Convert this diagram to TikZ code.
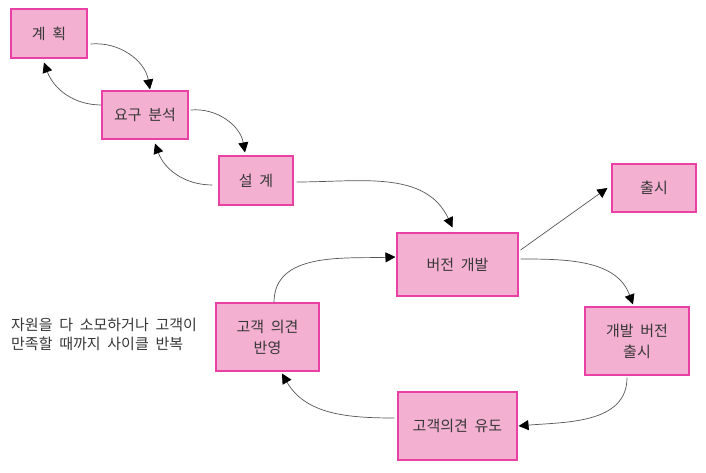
\documentclass[tikz,border=0pt]{standalone}
\usepackage{fontspec}
\setmainfont[WordSpace=2]{Noto Sans CJK KR}
\usetikzlibrary{arrows.meta}
\definecolor{boxfill}{RGB}{243,176,208}
\definecolor{boxline}{RGB}{232,64,164}
\definecolor{txtgray}{RGB}{55,55,55}
\definecolor{linkgray}{RGB}{85,85,85}
\begin{document}
\begin{tikzpicture}[x=1pt,y=1pt,
	box/.style={draw=boxline, fill=boxfill, line width=1.1pt, inner sep=0pt, align=center, text=txtgray,
		font=\fontsize{15}{21}\selectfont},
	link/.style={draw=linkgray, line width=0.7pt, -{Triangle[length=10pt,width=10pt,color=black]}}]
  		\useasboundingbox (0,0) rectangle (706,473);

  		\node (plan) at (49,439.5) [box, minimum width=76pt, minimum height=49pt] {계 획};
  		\node (req) at (145,358) [box, minimum width=86pt, minimum height=48pt] {요구 분석};
  		\node (design) at (256,292.5) [box, minimum width=74pt, minimum height=49pt] {설 계};
  		\node (dev) at (457.5,208.5) [box, minimum width=121pt, minimum height=63pt] {버전 개발};
  		\node (release) at (654,285) [box, minimum width=84pt, minimum height=48pt] {출시};
  		\node (devrel) at (637,132) [box, minimum width=104pt, minimum height=68pt] {개발 버전\\출시};
  		\node (induce) at (457.5,47) [box, minimum width=119pt, minimum height=68pt] {고객의견 유도};
  		\node (reflect) at (267.5,136) [box, minimum width=103pt, minimum height=68pt] {고객 의견\\반영};

  		\node (note) at (11,139) [right, align=left, inner sep=0pt, text=txtgray, font=\fontsize{15}{19}\selectfont]
  			{자원을 다 소모하거나 고객이\\만족할 때까지 사이클 반복};

  		\draw[link] ([shift={(3,-10.5)}]plan.east) to[out=5, in=100] ([shift={(5,1)}]req.north);
  		\draw[link] ([shift={(0,10)}]req.west) to[out=180, in=-70] ([shift={(-5,-4)}]plan.south);
  		\draw[link] ([shift={(2,5)}]req.east) to[out=5, in=100] ([shift={(-11,3)}]design.north);
  		\draw[link] ([shift={(-6,-4.5)}]design.west) to[out=180, in=-70] ([shift={(10,-4)}]req.south);

  		\draw[link] ([shift={(3,-1.5)}]design.east) to[out=0, in=115] ([shift={(-5,5)}]dev.north);
  		\draw[link] ([shift={(2,14.5)}]dev.east) -- ([shift={(-4,0)}]release.west);
  		\draw[link] ([shift={(2,5.5)}]dev.east) to[out=0, in=110] ([shift={(-4,2)}]devrel.north);
  		\draw[link] ([shift={(-10,-2)}]devrel.south) to[out=-90, in=5] ([shift={(1,0)}]induce.east);
  		\draw[link] ([shift={(-3,8)}]induce.west) to[out=180, in=-60] ([shift={(14.5,-2)}]reflect.south);
  		\draw[link] ([shift={(6.5,0)}]reflect.north) to[out=90, in=182] ([shift={(-1,7.5)}]dev.west);
  \end{tikzpicture}
\end{document}
